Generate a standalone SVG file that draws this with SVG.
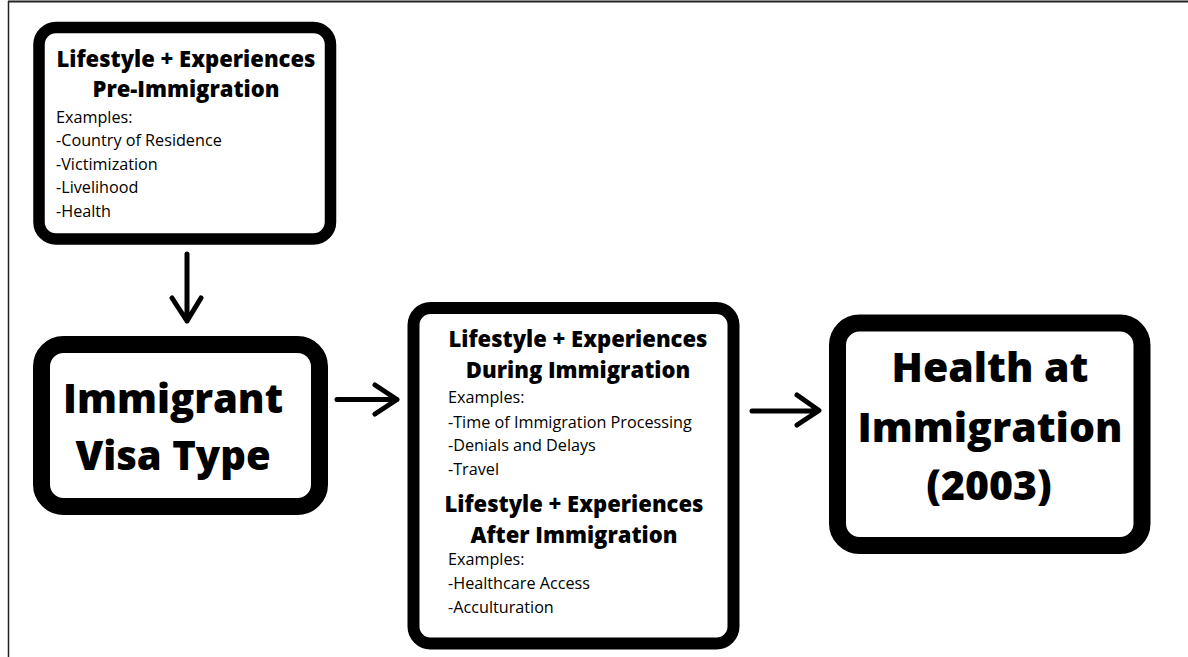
<svg xmlns="http://www.w3.org/2000/svg" width="1188" height="657" viewBox="0 0 1188 657">
<style>
.box{fill:#fff;stroke:#000}
.t{font-family:"Open Sans","Liberation Sans",sans-serif;fill:#000}
.h{font-weight:800;font-size:22px;text-anchor:middle}
.big{font-weight:800;font-size:41px;text-anchor:middle}
.r{font-weight:400;font-size:16.2px}
.c{fill:none;stroke:#000;stroke-width:5;stroke-linecap:round;stroke-linejoin:round}
</style>
<rect x="0" y="0" width="1188" height="657" fill="#fff"/>
<g id="frame">
<line x1="8" y1="1.5" x2="1188" y2="1.5" stroke="#222" stroke-width="2"/>
<line x1="8.5" y1="1" x2="8.5" y2="657" stroke="#222" stroke-width="1.5"/>
</g>
<g id="node-pre">
<rect class="box" x="39" y="27.5" width="291.5" height="211.5" rx="17" stroke-width="11.5"/>
<text class="t h" x="186" y="67">Lifestyle + Experiences</text>
<text class="t h" x="186" y="97">Pre-Immigration</text>
<text class="t r" x="56" y="123">Examples:</text>
<text class="t r" x="56" y="146">-Country of Residence</text>
<text class="t r" x="56" y="169.5">-Victimization</text>
<text class="t r" x="56" y="193">-Livelihood</text>
<text class="t r" x="56" y="217">-Health</text>
</g>
<g id="node-visa">
<rect class="box" x="41.5" y="344.5" width="278" height="162" rx="22" stroke-width="17"/>
<text class="t big" x="173" y="413" style="font-size:40px">Immigrant</text>
<text class="t big" x="173" y="470" style="font-size:40px">Visa Type</text>
</g>
<g id="node-during">
<rect class="box" x="413.5" y="308" width="320" height="335.5" rx="17" stroke-width="12"/>
<text class="t h" x="578" y="347">Lifestyle + Experiences</text>
<text class="t h" x="578" y="378">During Immigration</text>
<text class="t r" x="448" y="403">Examples:</text>
<text class="t r" x="448" y="428">-Time of Immigration Processing</text>
<text class="t r" x="448" y="451">-Denials and Delays</text>
<text class="t r" x="448" y="475">-Travel</text>
<text class="t h" x="574" y="512">Lifestyle + Experiences</text>
<text class="t h" x="574" y="543">After Immigration</text>
<text class="t r" x="448" y="565">Examples:</text>
<text class="t r" x="448" y="589">-Healthcare Access</text>
<text class="t r" x="448" y="613">-Acculturation</text>
</g>
<g id="node-health">
<rect class="box" x="837.5" y="323" width="304.5" height="222.5" rx="22" stroke-width="17"/>
<text class="t big" x="990" y="382">Health at</text>
<text class="t big" x="990" y="442">Immigration</text>
<text class="t big" x="989" y="500">(2003)</text>
</g>
<g id="connectors">
<path class="c" d="M187 254V321M172 298L187 321L201 298"/>
<path class="c" d="M337 399.5H397M375 385L397 399.5L375 414"/>
<path class="c" d="M752 411H818M797 395L819 410.5L797 425"/>
</g>
</svg>
